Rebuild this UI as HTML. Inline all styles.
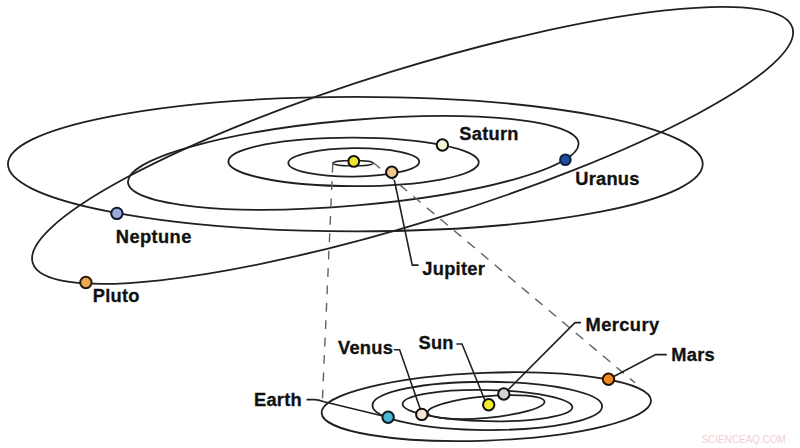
<!DOCTYPE html>
<html><head><meta charset="utf-8"><style>
html,body{margin:0;padding:0;background:#fff;}
svg{display:block;}
text{font-family:"Liberation Sans",sans-serif;font-weight:bold;font-size:18.3px;letter-spacing:0.25px;fill:#111;stroke:#111;stroke-width:0.3px;}
</style></head><body>
<svg width="800" height="448" viewBox="0 0 800 448">
<rect width="800" height="448" fill="#fff"/>
<g fill="none" stroke="#202020" stroke-width="1.8">
<!-- top system -->
<ellipse cx="412.61" cy="145.37" rx="397.66" ry="76.62" transform="rotate(-17.21 412.61 145.37)"/>
<ellipse cx="355.34" cy="164.12" rx="347.4" ry="67.21"/>
<ellipse cx="353.25" cy="162.83" rx="226.14" ry="42.73" transform="rotate(-4.97 353.25 162.83)"/>
<ellipse cx="353.58" cy="161.88" rx="125.22" ry="24.27" transform="rotate(0.19 353.58 161.88)"/>
<ellipse cx="353.79" cy="162.4" rx="65.47" ry="14.19" transform="rotate(-0.6 353.79 162.4)"/>
<ellipse cx="353.1" cy="163.2" rx="20.2" ry="2.7" stroke-width="1.4"/>
<!-- bottom system -->
<ellipse cx="486.3" cy="406.7" rx="164.8" ry="33.9" transform="rotate(-2.14 486.3 406.7)"/>
<ellipse cx="487.3" cy="405.9" rx="114.8" ry="24.13" transform="rotate(0.25 487.3 405.9)"/>
<ellipse cx="487.47" cy="405.62" rx="84.87" ry="15.57" transform="rotate(1.15 487.47 405.62)"/>
<ellipse cx="486.12" cy="407.07" rx="58.62" ry="10.76" transform="rotate(-5.3 486.12 407.07)"/>
</g>
<!-- dashed projection lines -->
<g fill="none" stroke="#56666e" stroke-width="1.4">
<line x1="332.8" y1="163" x2="322.4" y2="400" stroke-dasharray="8.8 8.6" stroke-dashoffset="-0.8"/>
<line x1="374" y1="163.2" x2="635" y2="382.8" stroke-dasharray="9.6 8.1" stroke-dashoffset="1.7"/>
</g>
<!-- connectors -->
<g fill="none" stroke="#202020" stroke-width="1.6">
<polyline points="394.3,180 412.3,265.1 418.6,265.1"/>
<polyline points="581,322.6 575,322.6 504,394"/>
<polyline points="666.8,354.6 655.6,354.6 608.5,379.3"/>
<polyline points="393.8,349.7 399.6,349.7 422,414"/>
<polyline points="456.4,344 462,344 485.8,402.5"/>
<path d="M306.5,399.6 L314.5,399.6 Q318,399.6 324,401.8 L388.1,417.3"/>
</g>
<!-- planets -->
<g stroke="#111" stroke-width="2">
<circle cx="353.75" cy="161.4" r="5.4" fill="#f2e42a"/>
<circle cx="391.8" cy="172.2" r="5.7" fill="#f3c98c"/>
<circle cx="442.4" cy="145" r="5.7" fill="#f6f6d6"/>
<circle cx="565.4" cy="159.7" r="5.3" fill="#1f4f9c" stroke="#0c1f44"/>
<circle cx="116.9" cy="213.4" r="5.7" fill="#9aaad6" stroke="#101830"/>
<circle cx="85.9" cy="282.5" r="5.7" fill="#f0a850" stroke="#2a1a08"/>
<circle cx="388.1" cy="417.3" r="5.7" fill="#4fb6d6" stroke="#0a1a24"/>
<circle cx="421.8" cy="414.4" r="5.7" fill="#f9e5d0"/>
<circle cx="488.7" cy="404.8" r="5.7" fill="#f2ea2a"/>
<circle cx="503.8" cy="394" r="5.7" fill="#d2d2d2"/>
<circle cx="608.5" cy="379.3" r="5.7" fill="#ee8a22" stroke="#2a1404"/>
</g>
<!-- labels -->
<text x="459.3" y="140">Saturn</text>
<text x="575.2" y="184.5">Uranus</text>
<text x="115.8" y="243" style="letter-spacing:0.4px">Neptune</text>
<text x="92.8" y="301.8">Pluto</text>
<text x="422.3" y="274.7">Jupiter</text>
<text x="585.5" y="330.9" style="letter-spacing:0.42px">Mercury</text>
<text x="671.3" y="361.1">Mars</text>
<text x="338" y="353.8">Venus</text>
<text x="418.5" y="348.8">Sun</text>
<text x="254" y="405.6">Earth</text>
<text transform="translate(701.5 443.2) scale(0.885 1)" style="font-weight:normal;font-size:11.2px;fill:#f2cdd3;letter-spacing:0;stroke:none">SCIENCEAQ.COM</text>
</svg>
</body></html>
